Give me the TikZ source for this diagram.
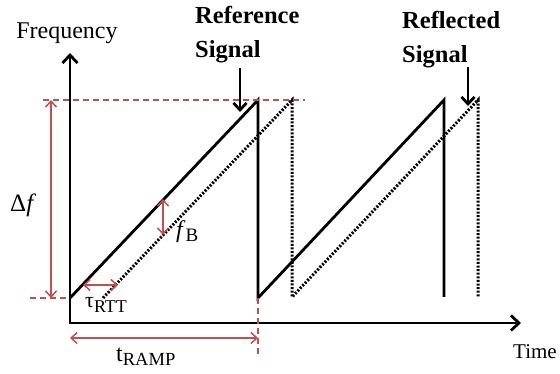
\documentclass[tikz,border=0pt]{standalone}
\usepackage{fontspec}
\setmainfont{Liberation Serif}
\usetikzlibrary{arrows.meta}
\definecolor{dred}{HTML}{C0504D}
\begin{document}
\begin{tikzpicture}[x=1pt,y=-1pt,
  sig/.style={line width=2.8pt, line join=miter},
  refl/.style={line width=3pt, dash pattern=on 2pt off 1.6pt},
  axis/.style={line width=2.8pt, {Straight Barb[length=8pt,width=15pt]}-{Straight Barb[length=8pt,width=15pt]}},
  dim/.style={dred, line width=1.5pt, {Straight Barb[length=6pt,width=11pt]}-{Straight Barb[length=6pt,width=11pt]}},
  guide/.style={dred, line width=1.4pt, dash pattern=on 6pt off 4pt},
  lbl/.style={font=\fontsize{24}{28}\selectfont, inner sep=0pt},
  blbl/.style={font=\bfseries\fontsize{24.5}{34}\selectfont, align=left, inner sep=0pt},
  point/.style={line width=2.8pt, -{Straight Barb[length=7pt,width=13pt]}}]
\useasboundingbox (0,0) rectangle (560,374);
% axes
\coordinate (O) at (70,323);
\coordinate (ytip) at (70,53);
\coordinate (xtip) at (521,323);
\draw[axis] (ytip) -- (O) -- (xtip);
% reference signal
\coordinate (r0) at (70,298);
\coordinate (r1) at (258,100);
\coordinate (r2) at (258,298);
\coordinate (r3) at (444,100);
\coordinate (r4) at (444,297);
\draw[sig] (r0) -- (r1) -- (r2) -- (r3) -- (r4);
% reflected signal
\coordinate (d0) at (103,298);
\coordinate (d1) at (292,100);
\coordinate (d2) at (292,297);
\coordinate (d3) at (478,100);
\coordinate (d4) at (478,297);
\draw[refl] (d0) -- (d1) -- (d2) -- (d3) -- (d4);
% guides
\coordinate (gt0) at (43,100);
\coordinate (gt1) at (305,100);
\coordinate (gb0) at (30,298);
\coordinate (gb1) at (70,298);
\coordinate (gv1) at (258,356);
\draw[guide] (gt0) -- (gt1);
\draw[guide] (gb0) -- (gb1);
\draw[guide] (r2) -- (gv1);
% dimension arrows
\coordinate (df0) at (51,298);
\coordinate (df1) at (51,100);
\draw[dim] (df0) -- (df1);
\coordinate (tr0) at (70,338);
\coordinate (tr1) at (258,338);
\draw[dim] (tr0) -- (tr1);
\coordinate (tt0) at (83,285);
\coordinate (tt1) at (118,285);
\draw[dim] (tt0) -- (tt1);
\coordinate (fb0) at (163,199);
\coordinate (fb1) at (163,235);
\draw[dim] (fb0) -- (fb1);
% labels
\node[lbl] (freq) at (67,33) {Frequency};
\node[lbl, anchor=base west, font=\fontsize{21}{24}\selectfont] (time) at (513,358) {Time};
\node[blbl, anchor=north west] (reflab) at (195,6) {Reference\\Signal};
\node[blbl, anchor=north west] (refllab) at (402,11) {Reflected\\Signal};
\node[lbl, anchor=base west] (dflab) at (10,212) {\fontsize{25}{25}\selectfont Δ\textit{f}};
\node[lbl, anchor=base west] (fblab) at (176,238) {\textit{f}\raisebox{-4pt}{\fontsize{19}{19}\selectfont B}};
\node[lbl, anchor=base west] (ttlab) at (85,308) {\fontsize{22}{22}\selectfont τ\raisebox{-5pt}{\fontsize{18}{18}\selectfont RTT}};
\node[lbl, anchor=base west] (trlab) at (116,361) {t\raisebox{-5pt}{\fontsize{18.5}{18}\selectfont RAMP}};
% pointer arrows
\coordinate (pa0) at (240,68);
\coordinate (pa1) at (240,112);
\draw[point] (pa0) -- (pa1);
\coordinate (pb0) at (468,67);
\coordinate (pb1) at (468,106);
\draw[point] (pb0) -- (pb1);
\end{tikzpicture}
\end{document}
